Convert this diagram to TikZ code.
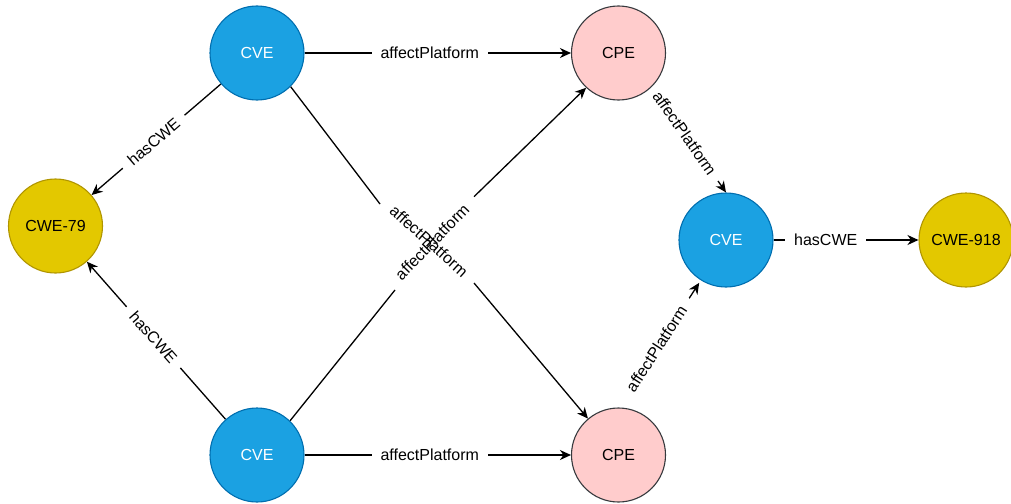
\documentclass[tikz,border=0pt]{standalone}
\usepackage{fontspec}
\setmainfont{Liberation Sans}
\usetikzlibrary{arrows.meta}
\definecolor{cvefill}{HTML}{1BA1E2}
\definecolor{cvedraw}{HTML}{006EAF}
\definecolor{cpefill}{HTML}{FFCCCC}
\definecolor{cpedraw}{HTML}{36393D}
\definecolor{cwefill}{HTML}{E3C800}
\definecolor{cwedraw}{HTML}{B09500}
\pgfdeclarelayer{edges}
\pgfsetlayers{edges,main}
\begin{document}
\begin{tikzpicture}[x=1pt,y=-1pt,
  every node/.style={font=\fontsize{16}{19}\selectfont},
  ent/.style={circle, minimum size=94pt, inner sep=0pt, line width=1.1pt},
  cve/.style={ent, fill=cvefill, draw=cvedraw, text=white},
  cpe/.style={ent, fill=cpefill, draw=cpedraw, text=black},
  cwe/.style={ent, fill=cwefill, draw=cwedraw, text=black},
  rel/.style={draw=black, line width=1.3pt, -{Stealth[length=11pt,width=10pt,inset=3.5pt]}},
  plainrel/.style={draw=black, line width=1.3pt},
  lbl/.style={fill=white, inner xsep=9pt, inner ysep=2pt, text=black},
  xlbl/.style={inner sep=0pt, text=black}
]
\useasboundingbox (0,0) rectangle (1011,503);
\node[cve] (cveT) at (257,53) {CVE};
\node[cpe] (cpeT) at (618.5,53) {CPE};
\node[cwe] (cwe79) at (55.5,226) {CWE-79};
\node[cve] (cveM) at (726,240) {CVE};
\node[cwe] (cwe918) at (966,240) {CWE-918};
\node[cve] (cveB) at (257,455) {CVE};
\node[cpe] (cpeB) at (618.5,455) {CPE};
\coordinate (g1) at (380,204);
\coordinate (g2) at (474,283);
\coordinate (g3) at (395,290);
\coordinate (g4) at (474,196.7);
\begin{pgfonlayer}{edges}
\draw[rel] (cveT) -- node[lbl,pos=0.47]{affectPlatform} (cpeT);
\draw[rel] (cveB) -- node[lbl,pos=0.47]{affectPlatform} (cpeB);
\draw[rel] (cveT) -- node[lbl,sloped,pos=0.52]{hasCWE} (cwe79);
\draw[rel] (cveB) -- node[lbl,sloped,pos=0.52]{hasCWE} (cwe79);
\draw[rel] (cveM) -- node[lbl,pos=0.36]{hasCWE} (cwe918);
\draw[rel] (cpeT.-45) -- node[lbl,sloped,pos=0.44]{affectPlatform} (cveM.north);
\draw[rel, shorten >=3pt, shorten <=14pt] (cpeB.north) -- node[lbl,sloped,pos=0.46,inner xsep=11pt]{affectPlatform} (cveM.238);
\draw[plainrel] (cveT.-45) -- (g1);
\draw[rel] (g2) -- (cpeB.130);
\draw[plainrel] (cveB.46) -- (g3);
\draw[rel] (g4) -- (cpeT.-133);
\node[xlbl, rotate=-42] (la) at (429,241) {affectPlatform};
\node[xlbl, rotate=46] (lb) at (432,242) {affectPlatform};
\end{pgfonlayer}
\end{tikzpicture}
\end{document}
